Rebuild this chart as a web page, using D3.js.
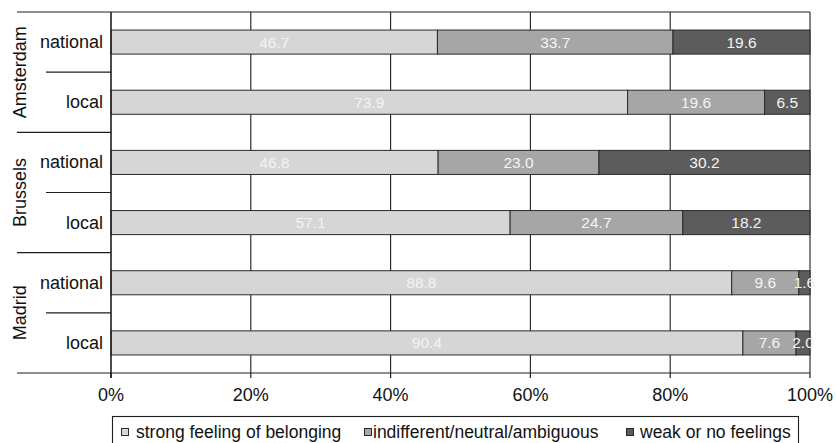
<!DOCTYPE html>
<html>
<head>
<meta charset="utf-8">
<script src="https://cdn.jsdelivr.net/npm/d3@7"></script>
<style>
  html, body { margin: 0; padding: 0; background: #fff; }
  svg { display: block; font-family: "Liberation Sans", Arial, sans-serif; }
</style>
</head>
<body>
<svg id="chart" width="836" height="443"></svg>
<script>
// ---- data ----
const cities = ["Amsterdam", "Brussels", "Madrid"];
const levels = ["national", "local"];
const seriesNames = ["strong feeling of belonging", "indifferent/neutral/ambiguous", "weak or no feelings"];
const strongValues      = [46.7, 73.9, 46.8, 57.1, 88.8, 90.4];
const indifferentValues = [33.7, 19.6, 23.0, 24.7, 9.6, 7.6];
const weakValues        = [19.6, 6.5, 30.2, 18.2, 1.6, 2.0];
const xTicks = [0, 20, 40, 60, 80, 100];

(function () {
// ---- layout ----
const svg = d3.select("#chart");
const pLeft = 111, pRight = 810, pTop = 12, pBottom = 373;
const colors = ["#d6d6d6", "#a6a6a6", "#5c5c5c"];
const lineColor = "#1e1e1e";

const rows = [];
cities.forEach(c => levels.forEach(l => rows.push({ city: c, level: l, key: c + "|" + l })));
rows.forEach((r, i) => { r.values = [strongValues[i], indifferentValues[i], weakValues[i]]; });

const x = d3.scaleLinear().domain([0, 100]).range([pLeft, pRight]);
const y = d3.scaleBand().domain(rows.map(r => r.key)).range([pTop, pBottom])
  .paddingInner(0.6).paddingOuter(0.3);
const step = y.step();

// gridlines
svg.append("g").selectAll("line").data(xTicks.filter(t => t > 0)).join("line")
  .attr("x1", d => x(d)).attr("x2", d => x(d))
  .attr("y1", pTop).attr("y2", pBottom)
  .attr("stroke", lineColor).attr("stroke-width", 1.1);

// stacked bars
const stacked = rows.map(r => {
  let acc = 0;
  return r.values.map((v, i) => {
    const seg = { key: r.key, i, v, x0: acc, x1: acc + v };
    acc += v;
    return seg;
  });
}).flat();

svg.append("g").selectAll("rect").data(stacked).join("rect")
  .attr("x", d => x(d.x0)).attr("width", d => x(Math.min(d.x1, 100)) - x(d.x0))
  .attr("y", d => y(d.key)).attr("height", y.bandwidth())
  .attr("fill", d => colors[d.i]).attr("stroke", "#2a2a2a").attr("stroke-width", 1);

svg.append("g").selectAll("text").data(stacked).join("text")
  .attr("x", d => x((d.x0 + d.x1) / 2))
  .attr("y", d => y(d.key) + y.bandwidth() / 2 + 5.5)
  .attr("text-anchor", "middle")
  .attr("font-size", 15.5)
  .attr("fill", "#f4f4f4")
  .text(d => d.v.toFixed(1));

// frame lines: top and bottom, left axis
svg.append("line").attr("x1", 17).attr("x2", pRight).attr("y1", pTop).attr("y2", pTop)
  .attr("stroke", lineColor).attr("stroke-width", 1.2);
svg.append("line").attr("x1", 17).attr("x2", pRight).attr("y1", pBottom).attr("y2", pBottom)
  .attr("stroke", lineColor).attr("stroke-width", 1.2);
svg.append("line").attr("x1", pLeft).attr("x2", pLeft).attr("y1", pTop).attr("y2", pBottom + 5)
  .attr("stroke", lineColor).attr("stroke-width", 1.6);

// category separators
rows.forEach((r, i) => {
  if (i === 0) return;
  const sepY = pTop + i * step;
  const groupStart = (i % levels.length === 0);
  svg.append("line")
    .attr("x1", groupStart ? 17 : 46).attr("x2", pLeft)
    .attr("y1", sepY).attr("y2", sepY)
    .attr("stroke", lineColor).attr("stroke-width", 1.2);
});

// x ticks and labels
const xg = svg.append("g");
xg.selectAll("line").data(xTicks).join("line")
  .attr("x1", d => x(d)).attr("x2", d => x(d))
  .attr("y1", pBottom).attr("y2", pBottom + 5)
  .attr("stroke", lineColor).attr("stroke-width", 1.2);
xg.selectAll("text").data(xTicks).join("text")
  .attr("x", d => x(d)).attr("y", 401)
  .attr("text-anchor", "middle").attr("font-size", 18).attr("fill", "#111")
  .text(d => d + "%");

// row labels
svg.append("g").selectAll("text").data(rows).join("text")
  .attr("x", 103).attr("y", d => y(d.key) + y.bandwidth() / 2 + 6)
  .attr("text-anchor", "end").attr("font-size", 18).attr("fill", "#111")
  .text(d => d.level);

// city labels (rotated)
cities.forEach((c, ci) => {
  const cy = pTop + (ci * levels.length + levels.length / 2) * step;
  svg.append("text")
    .attr("transform", `translate(26,${cy}) rotate(-90)`)
    .attr("text-anchor", "middle").attr("font-size", 18).attr("fill", "#111")
    .text(c);
});

// legend
svg.append("rect").attr("x", 112.5).attr("y", 416.5).attr("width", 686).attr("height", 40)
  .attr("fill", "#fff").attr("stroke", lineColor).attr("stroke-width", 1.1);
const legendSwatchX = [121, 364, 626];
const legendTextX = [136, 373, 640];
seriesNames.forEach((s, i) => {
  svg.append("rect").attr("x", legendSwatchX[i] + 0.5).attr("y", 428.5).attr("width", 7).attr("height", 7)
    .attr("fill", colors[i]).attr("stroke", "#2a2a2a").attr("stroke-width", 1);
  svg.append("text").attr("x", legendTextX[i]).attr("y", 438)
    .attr("font-size", 17.5).attr("fill", "#111").text(s);
});
})();
</script>
</body>
</html>
